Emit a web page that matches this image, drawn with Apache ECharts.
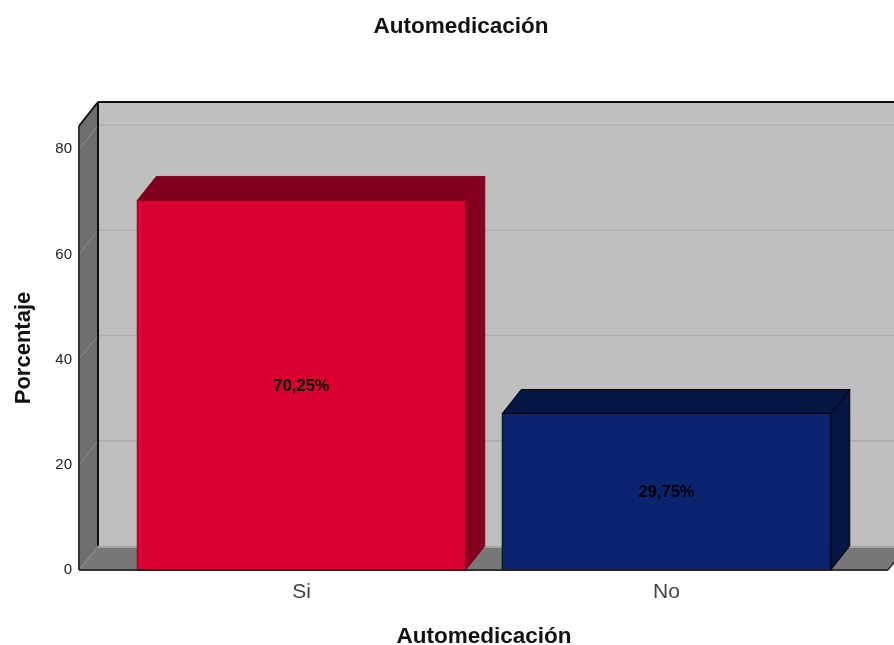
<!DOCTYPE html>
<html><head><meta charset="utf-8">
<style>html,body{margin:0;padding:0;background:#fff}#c{width:894px;height:645px}</style>
<script src="https://cdn.jsdelivr.net/npm/echarts@6/dist/echarts.min.js"></script>
</head><body><div id="c"></div>
<script>
var categories = ['Si', 'No'];
var values = [70.25, 29.75];
var valueLabels = ['70,25%', '29,75%'];
var yTicks = [0, 20, 40, 60, 80];
var chartTitle = 'Automedicación';
var xName = 'Automedicación';
var yName = 'Porcentaje';
var frontColors = ['#d9002f', '#0a2470'];
var topColors = ['#7e001c', '#061746'];
var sideColors = ['#85001e', '#051644'];
var edgeColors = ['#8a0020', '#000000'];
var DX = 19, DY = 24;
var FONT = '"Liberation Sans", Arial, sans-serif';

function poly(pts, fill, stroke, lw) {
  return { type: 'polygon', shape: { points: pts },
    style: { fill: fill, stroke: stroke || null, lineWidth: lw || 0 } };
}
function line(a, b, stroke, lw) {
  return { type: 'line', shape: { x1: a[0], y1: a[1], x2: b[0], y2: b[1] },
    style: { stroke: stroke, lineWidth: lw } };
}
function renderWalls(params, api) {
  var cs = params.coordSys;
  var L = cs.x - 40, R = cs.x + cs.width + 39, T = cs.y, B = cs.y + cs.height;
  var kids = [
    poly([[L + DX, T - DY], [R + DX, T - DY], [R + DX, B - DY], [L + DX, B - DY]], '#bfbfbf'),
    poly([[L, T], [L + DX, T - DY], [L + DX, B - DY], [L, B]], '#6e6e6e'),
    poly([[L, B], [L + DX, B - DY], [R + DX, B - DY], [R, B]], '#787878'),
    line([L + DX, B - DY + 1], [R + DX, B - DY + 1], '#a4a4a4', 2)
  ];
  yTicks.forEach(function (t) {
    var y = api.coord([0, t])[1];
    if (t > 0) kids.push(line([L + DX, y - DY], [R + DX, y - DY], '#adadad', 1.5));
    kids.push(line([L, y], [L + DX, y - DY], '#8c8c8c', 1));
  });
  kids.push(line([L + DX, T - DY], [R + DX, T - DY], '#111', 2));
  kids.push(line([L + DX, T - DY], [L + DX, B - DY], '#111', 2));
  kids.push(line([L, T], [L + DX, T - DY], '#111', 2));
  kids.push(line([L, T], [L, B], '#333', 2));
  kids.push(line([L, B], [R, B], '#333', 2));
  kids.push(line([R, B], [R + DX, B - DY], '#333', 1.5));
  return { type: 'group', children: kids };
}
function renderBar(params, api) {
  var i = api.value(0);
  var top = api.coord([i, api.value(1)]);
  var base = api.coord([i, 0]);
  var w = api.size([1, 0])[0] * 0.9;
  var l = top[0] - w / 2, r = top[0] + w / 2, t = top[1], b = base[1];
  var e = edgeColors[i];
  return { type: 'group', children: [
    poly([[l, t], [l + DX, t - DY], [r + DX, t - DY], [r, t]], topColors[i], e, 1),
    poly([[r, t], [r + DX, t - DY], [r + DX, b - DY], [r, b]], sideColors[i], e, 1),
    poly([[l, t], [r, t], [r, b], [l, b]], frontColors[i], e, 1),
    line([l, b], [r, b], '#222', 2),
    { type: 'text', x: top[0], y: (t + b) / 2 + 1,
      style: { text: valueLabels[i], fill: '#000', align: 'center', verticalAlign: 'middle',
        font: 'bold 16.5px ' + FONT } }
  ] };
}
var chart = echarts.init(document.getElementById('c'));
chart.setOption({
  animation: false,
  backgroundColor: '#fff',
  title: { text: chartTitle, left: 456, top: 10, textAlign: 'center',
    textStyle: { fontFamily: FONT, fontSize: 22.5, fontWeight: 'bold', color: '#111' } },
  grid: { left: 119, width: 730, top: 126, height: 444, outerBoundsMode: 'none' },
  xAxis: { type: 'category', data: categories, name: xName, nameLocation: 'middle', nameGap: 55,
    nameTextStyle: { fontFamily: FONT, fontSize: 22.5, fontWeight: 'bold', color: '#111' },
    axisLine: { show: false }, axisTick: { show: false },
    axisLabel: { fontFamily: FONT, fontSize: 21, color: '#444', margin: 12 } },
  yAxis: { type: 'value', min: 0, max: 84.4, interval: 20, offset: 40,
    name: yName, nameLocation: 'middle', nameGap: 44, nameRotate: 90,
    nameTextStyle: { fontFamily: FONT, fontSize: 22, fontWeight: 'bold', color: '#111' },
    axisLine: { show: false }, axisTick: { show: false }, splitLine: { show: false },
    axisLabel: { fontFamily: FONT, fontSize: 15, color: '#222', margin: 7, showMaxLabel: false } },
  series: [
    { type: 'custom', renderItem: renderWalls, data: [[0, 0]], clip: false, silent: true, z: 1,
      encode: { x: 0, y: 1 } },
    { type: 'custom', renderItem: renderBar, clip: false, z: 2, encode: { x: 0, y: 1 },
      data: values.map(function (v, i) { return [i, v]; }) }
  ]
});
</script></body></html>
